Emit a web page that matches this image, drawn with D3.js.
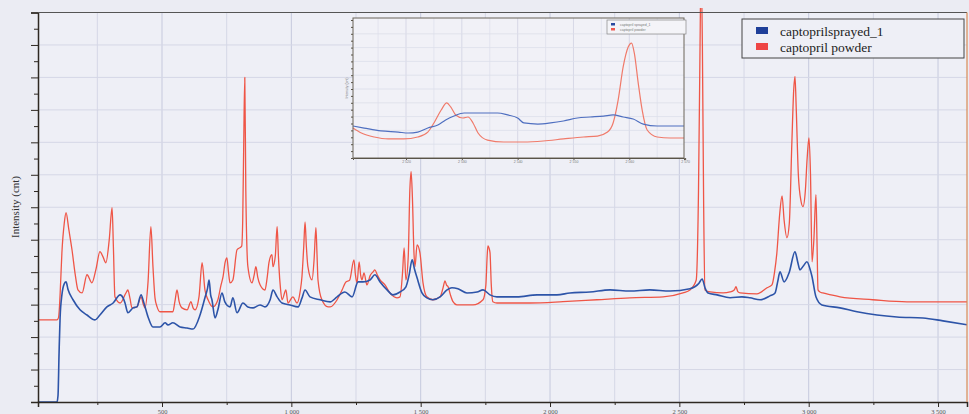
<!DOCTYPE html>
<html><head><meta charset="utf-8">
<script src="https://cdn.jsdelivr.net/npm/d3@7"></script>
<style>
html,body{margin:0;padding:0;background:#ebecf3;}
svg{display:block;}
</style></head><body>
<svg id="c" width="969" height="414"></svg>
<script>
const seriesNames = ["captoprilsprayed_1", "captopril powder"];
const seriesColors = ["#2d54a8", "#ef5546"];
const xTickValues = [500, 1000, 1500, 2000, 2500, 3000, 3500];
const xTickLabels = ["500", "1 000", "1 500", "2 000", "2 500", "3 000", "3 500"];
const yLabel = "Intensity (cnt)";

// captoprilsprayed_1 : [wavenumber, counts]
const sprayed = [[21,0],[94,0],[98,200],[102,1500],[106,2600],[113,3300],[122,3640],[129,3700],[137,3455],[156,3150],[183,2840],[210,2680],[241,2530],[260,2680],[287,2930],[311,3050],[338,3300],[350,3200],[357,3050],[368,2750],[388,2900],[403,2930],[419,3300],[430,3050],[446,2620],[465,2310],[492,2310],[512,2440],[523,2375],[542,2440],[570,2310],[597,2280],[620,2250],[647,2680],[666,3210],[676,3500],[682,3760],[688,3300],[693,3150],[705,2590],[716,2840],[732,3360],[743,3085],[763,2930],[774,3210],[790,2750],[813,3050],[832,2930],[852,2900],[879,2990],[898,2930],[918,3150],[929,3450],[945,3240],[964,3050],[995,2990],[1026,2930],[1041,3200],[1053,3450],[1072,3240],[1111,3150],[1150,3085],[1177,3240],[1207,3390],[1235,3240],[1258,3700],[1277,3700],[1304,3760],[1323,3920],[1343,3700],[1370,3455],[1393,3300],[1420,3390],[1443,3550],[1455,3900],[1467,4380],[1476,4100],[1486,3825],[1505,3360],[1524,3210],[1547,3150],[1575,3240],[1602,3455],[1621,3520],[1644,3490],[1679,3360],[1718,3390],[1741,3455],[1768,3300],[1795,3240],[1872,3240],[1950,3300],[2027,3300],[2077,3360],[2154,3390],[2232,3455],[2309,3420],[2386,3455],[2464,3420],[2541,3490],[2575,3650],[2588,3790],[2600,3500],[2611,3360],[2646,3300],[2696,3210],[2742,3240],[2773,3210],[2812,3150],[2850,3270],[2870,3360],[2880,3700],[2889,4010],[2905,3700],[2925,4000],[2947,4630],[2958,4300],[2966,4070],[2980,4200],[2993,4320],[3005,4100],[3013,3860],[3028,3240],[3051,2990],[3121,2900],[3187,2780],[3264,2680],[3341,2620],[3442,2590],[3519,2500],[3612,2380]];

// captopril powder : [wavenumber, counts]
const powder = [[21,2530],[94,2530],[100,2600],[106,3300],[113,4600],[122,5500],[129,5830],[140,5300],[152,4690],[165,3900],[175,3455],[191,3360],[210,3920],[229,3670],[245,4100],[260,4630],[272,4470],[283,4290],[296,5000],[307,5990],[312,4800],[318,3240],[338,3050],[360,3350],[368,3450],[376,3200],[384,2900],[403,2930],[419,3240],[428,3000],[434,2900],[446,3700],[457,5400],[465,4170],[473,3200],[481,2930],[492,2780],[542,2780],[550,3100],[558,3450],[566,3100],[577,2900],[597,2840],[612,3090],[620,2900],[628,2840],[643,3240],[655,4290],[666,3450],[678,3150],[697,2930],[716,3150],[728,3600],[736,3860],[744,4300],[751,4440],[757,4000],[763,3670],[774,3760],[790,4690],[808,4800],[812,5600],[816,8000],[820,10000],[824,6500],[832,4170],[848,3670],[856,3900],[863,4170],[870,3850],[879,3610],[898,3450],[906,3800],[914,4320],[925,4540],[929,4170],[938,4500],[945,5400],[950,4500],[952,4170],[958,3500],[964,3150],[979,3450],[987,3050],[1006,3240],[1022,3050],[1034,3400],[1041,3860],[1048,4800],[1053,5550],[1058,4800],[1064,4170],[1080,3760],[1088,4400],[1095,5370],[1099,4600],[1103,3760],[1118,3150],[1142,2930],[1150,2930],[1177,3150],[1196,3450],[1211,3700],[1225,3750],[1242,4380],[1248,3900],[1254,3670],[1262,4320],[1268,3900],[1273,3760],[1281,3980],[1292,3610],[1305,3900],[1316,4010],[1323,4070],[1333,3900],[1343,3760],[1362,3610],[1381,3360],[1408,3210],[1420,3240],[1430,4000],[1436,4750],[1443,3760],[1452,4500],[1458,6500],[1463,7100],[1468,6300],[1474,4600],[1478,4170],[1486,4840],[1497,4600],[1509,3670],[1524,3240],[1547,3150],[1575,3240],[1586,3500],[1594,3730],[1600,3600],[1606,3550],[1615,3300],[1625,3090],[1640,2990],[1702,2990],[1741,3150],[1752,3600],[1757,4500],[1760,4810],[1764,4750],[1768,4600],[1773,3600],[1779,3090],[1795,3050],[1922,3050],[2050,3090],[2181,3150],[2309,3210],[2437,3240],[2514,3360],[2541,3450],[2565,3750],[2574,6500],[2580,11000],[2584,13500],[2589,11000],[2594,6000],[2599,3450],[2619,3390],[2669,3360],[2696,3390],[2712,3450],[2719,3550],[2726,3400],[2735,3360],[2800,3330],[2839,3520],[2858,3610],[2868,4000],[2877,4600],[2888,5800],[2897,6350],[2905,5600],[2916,5060],[2925,5500],[2935,8000],[2942,9600],[2947,10030],[2952,9000],[2960,7000],[2970,6200],[2978,6020],[2987,6500],[2994,7500],[3001,8140],[3007,7000],[3013,4320],[3020,5000],[3028,6385],[3032,5000],[3036,3455],[3045,3380],[3055,3360],[3121,3240],[3248,3150],[3380,3085],[3508,3085],[3612,3085]];

// inset (zoomed region)
const insetTickValues = [2520, 2530, 2540, 2550, 2560, 2570];
const insetTickLabels = ["2 520", "2 530", "2 540", "2 550", "2 560", "2 570"];
const insetSprayed = [[2510.5,23.2],[2512.5,21.7],[2515.5,19.6],[2518.6,18.8],[2520.4,18.1],[2522.1,18.8],[2523.9,21.7],[2525.7,23.9],[2527.1,27.5],[2528.6,30.4],[2530.4,32.6],[2532.1,32.6],[2534.6,32.6],[2536.4,32.6],[2538.2,31.2],[2540,29],[2541.1,25.4],[2543.6,24.6],[2545.9,25.4],[2548.2,26.8],[2550.7,29],[2553,29.7],[2555.4,30.4],[2557.1,31.2],[2558.9,29.7],[2560.7,28.3],[2562.5,24.6],[2565,23.2],[2567.3,23.2],[2569.8,23.2]];
const insetPowder = [[2510.5,21.7],[2512,18.1],[2514.3,15.2],[2516.8,13.8],[2519.6,13.8],[2522.1,15.2],[2523.9,18.8],[2525,25.4],[2526.3,34.8],[2527.3,39.9],[2528,37],[2528.9,31.2],[2530.2,29],[2531.1,29.7],[2532,25.4],[2532.9,18.1],[2534.6,13],[2537.5,11.6],[2541.1,11.6],[2544.6,12.3],[2548.2,13.8],[2551.8,15.2],[2554.3,15.9],[2556.1,18.8],[2557.1,25.4],[2558,42],[2558.9,66],[2559.8,80.4],[2560.4,83.3],[2560.9,76],[2561.6,54.3],[2562.3,34.8],[2563.2,20.3],[2565,15.2],[2567.3,14.5],[2569.8,14.5]];

const svg = d3.select("#c");
const W = 969, H = 414;
const L = 38, R = 967, T = 12.5, B = 402;

svg.append("rect").attr("width", W).attr("height", H).attr("fill", "#ebecf3");
svg.append("rect").attr("x", L).attr("y", T).attr("width", R - L).attr("height", B - T).attr("fill", "#eeeff6");

const x = d3.scaleLinear().domain([20.6, 3612]).range([L, R]);
const y = d3.scaleLinear().domain([0, 12000]).range([B, T]);

// grid
const g = svg.append("g");
g.selectAll(".vg").data(d3.range(250, 3612, 250)).join("line")
  .attr("x1", d => x(d)).attr("x2", d => x(d)).attr("y1", T).attr("y2", B)
  .attr("stroke", d => d % 500 === 0 ? "#c6c9dd" : "#d5d7e6").attr("stroke-width", 1);
g.selectAll(".hg").data(d3.range(1000, 12000, 1000)).join("line")
  .attr("x1", L).attr("x2", R).attr("y1", d => y(d)).attr("y2", d => y(d))
  .attr("stroke", "#d5d7e6").attr("stroke-width", 1);

svg.append("clipPath").attr("id", "clip").append("rect")
  .attr("x", L).attr("y", 8).attr("width", R - L).attr("height", B - 8);

const line = d3.line().x(d => x(d[0])).y(d => y(d[1])).curve(d3.curveMonotoneX);
const lines = svg.append("g").attr("clip-path", "url(#clip)");
lines.append("path").datum(powder).attr("d", line).attr("fill", "none")
  .attr("stroke", seriesColors[1]).attr("stroke-width", 1.3).attr("stroke-linejoin", "round");
lines.append("path").datum(sprayed).attr("d", line).attr("fill", "none")
  .attr("stroke", seriesColors[0]).attr("stroke-width", 1.6).attr("stroke-linejoin", "round");

// axes
const axisColor = "#2e2822";
const yMajor = svg.append("g").attr("transform", `translate(${L},0)`)
  .call(d3.axisLeft(y).tickValues(d3.range(0, 12001, 1000)).tickSize(7).tickFormat(""));
const yMinor = svg.append("g").attr("transform", `translate(${L},0)`)
  .call(d3.axisLeft(y).tickValues(d3.range(500, 12000, 1000)).tickSize(4).tickFormat(""));
yMinor.select(".domain").remove();
const xMajor = svg.append("g").attr("transform", `translate(0,${B})`)
  .call(d3.axisBottom(x).tickValues(xTickValues).tickSize(5).tickPadding(2)
    .tickFormat((d, i) => xTickLabels[i]));
const xMinor = svg.append("g").attr("transform", `translate(0,${B})`)
  .call(d3.axisBottom(x).tickValues(d3.range(250, 3612, 500)).tickSize(3).tickFormat(""));
xMinor.select(".domain").remove();
[yMajor, yMinor, xMajor, xMinor].forEach(a => {
  a.selectAll(".domain").attr("stroke", axisColor).attr("stroke-width", 1.5);
  a.selectAll(".tick line").attr("stroke", axisColor).attr("stroke-width", 1);
});
xMajor.selectAll(".tick text").attr("font-family", "Liberation Serif, serif")
  .attr("font-size", 6.5).attr("fill", "#555");

svg.append("line").attr("x1", L).attr("x2", R).attr("y1", T).attr("y2", T)
  .attr("stroke", "#555").attr("stroke-width", 1.2);
svg.append("line").attr("x1", R).attr("x2", R).attr("y1", T).attr("y2", B)
  .attr("stroke", "#d98a55").attr("stroke-width", 1.2);

svg.append("text").attr("transform", "translate(19,207) rotate(-90)")
  .attr("text-anchor", "middle").attr("font-family", "Liberation Serif, serif")
  .attr("font-size", 11).attr("fill", "#333").text(yLabel);

// legend
const lg = svg.append("g");
lg.append("rect").attr("x", 742).attr("y", 19).attr("width", 222).attr("height", 39)
  .attr("fill", "#eeeff6").attr("stroke", "#444").attr("stroke-width", 1);
seriesNames.forEach((n, i) => {
  lg.append("rect").attr("x", 756).attr("y", 27 + i * 16).attr("width", 12).attr("height", 7)
    .attr("fill", i === 0 ? "#1f3f99" : "#ee4545");
  lg.append("text").attr("x", 780).attr("y", 36 + i * 16)
    .attr("font-family", "Liberation Serif, serif").attr("font-size", 13.5)
    .attr("fill", "#222").text(n);
});

// inset
const iL = 353, iR = 684, iT = 18, iB = 158;
const ix = d3.scaleLinear().domain([2510.5, 2569.8]).range([iL, iR]);
const iy = d3.scaleLinear().domain([0, 100]).range([iB, 20]);
const ig = svg.append("g");
ig.append("rect").attr("x", iL).attr("y", iT).attr("width", iR - iL).attr("height", iB - iT)
  .attr("fill", "#f1f1f7");
ig.selectAll(".ivg").data(d3.range(2515, 2570, 5)).join("line")
  .attr("x1", d => ix(d)).attr("x2", d => ix(d)).attr("y1", iT).attr("y2", iB)
  .attr("stroke", d => d % 10 === 0 ? "#d0d2e2" : "#e0e1ec").attr("stroke-width", 0.8);
ig.selectAll(".ihg").data(d3.range(10, 100, 10)).join("line")
  .attr("x1", iL).attr("x2", iR).attr("y1", d => iy(d)).attr("y2", d => iy(d))
  .attr("stroke", "#dcdeea").attr("stroke-width", 0.8);
const iline = d3.line().x(d => ix(d[0])).y(d => iy(d[1])).curve(d3.curveMonotoneX);
ig.append("path").datum(insetPowder).attr("d", iline).attr("fill", "none")
  .attr("stroke", "#f07a6a").attr("stroke-width", 1.2);
ig.append("path").datum(insetSprayed).attr("d", iline).attr("fill", "none")
  .attr("stroke", "#4f6fc0").attr("stroke-width", 1.2);
ig.append("rect").attr("x", iL).attr("y", iT).attr("width", iR - iL).attr("height", iB - iT)
  .attr("fill", "none").attr("stroke", "#6a6458").attr("stroke-width", 1);
const iax = ig.append("g").attr("transform", `translate(0,${iB})`)
  .call(d3.axisBottom(ix).tickValues(insetTickValues).tickSize(2).tickPadding(1)
    .tickFormat((d, i) => insetTickLabels[i]));
iax.select(".domain").attr("stroke", "#5a5448");
iax.selectAll(".tick line").attr("stroke", "#5a5448");
iax.selectAll(".tick text").attr("font-size", 3.5).attr("fill", "#777")
  .attr("font-family", "Liberation Sans, sans-serif");
const iay = ig.append("g").attr("transform", `translate(${iL},0)`)
  .call(d3.axisLeft(iy).tickValues(d3.range(0, 101, 5)).tickSize(2).tickFormat(""));
iay.select(".domain").remove();
iay.selectAll(".tick line").attr("stroke", "#5a5448");
ig.append("text").attr("transform", `translate(348,${(iT + iB) / 2}) rotate(-90)`)
  .attr("text-anchor", "middle").attr("font-size", 3.5).attr("fill", "#777")
  .attr("font-family", "Liberation Sans, sans-serif").text(yLabel);
// inset legend
ig.append("rect").attr("x", 607).attr("y", 20).attr("width", 79).attr("height", 14)
  .attr("fill", "#f4f4f8").attr("stroke", "#888").attr("stroke-width", 0.7);
["captopril sprayed_1", "captopril powder"].forEach((n, i) => {
  ig.append("rect").attr("x", 611).attr("y", 23 + i * 5).attr("width", 4).attr("height", 2.5)
    .attr("fill", i === 0 ? "#2a4aa0" : "#ee5a50");
  ig.append("text").attr("x", 620).attr("y", 25.8 + i * 5).attr("font-size", 3.5)
    .attr("fill", "#777").attr("font-family", "Liberation Sans, sans-serif").text(n);
});
</script>
</body></html>
